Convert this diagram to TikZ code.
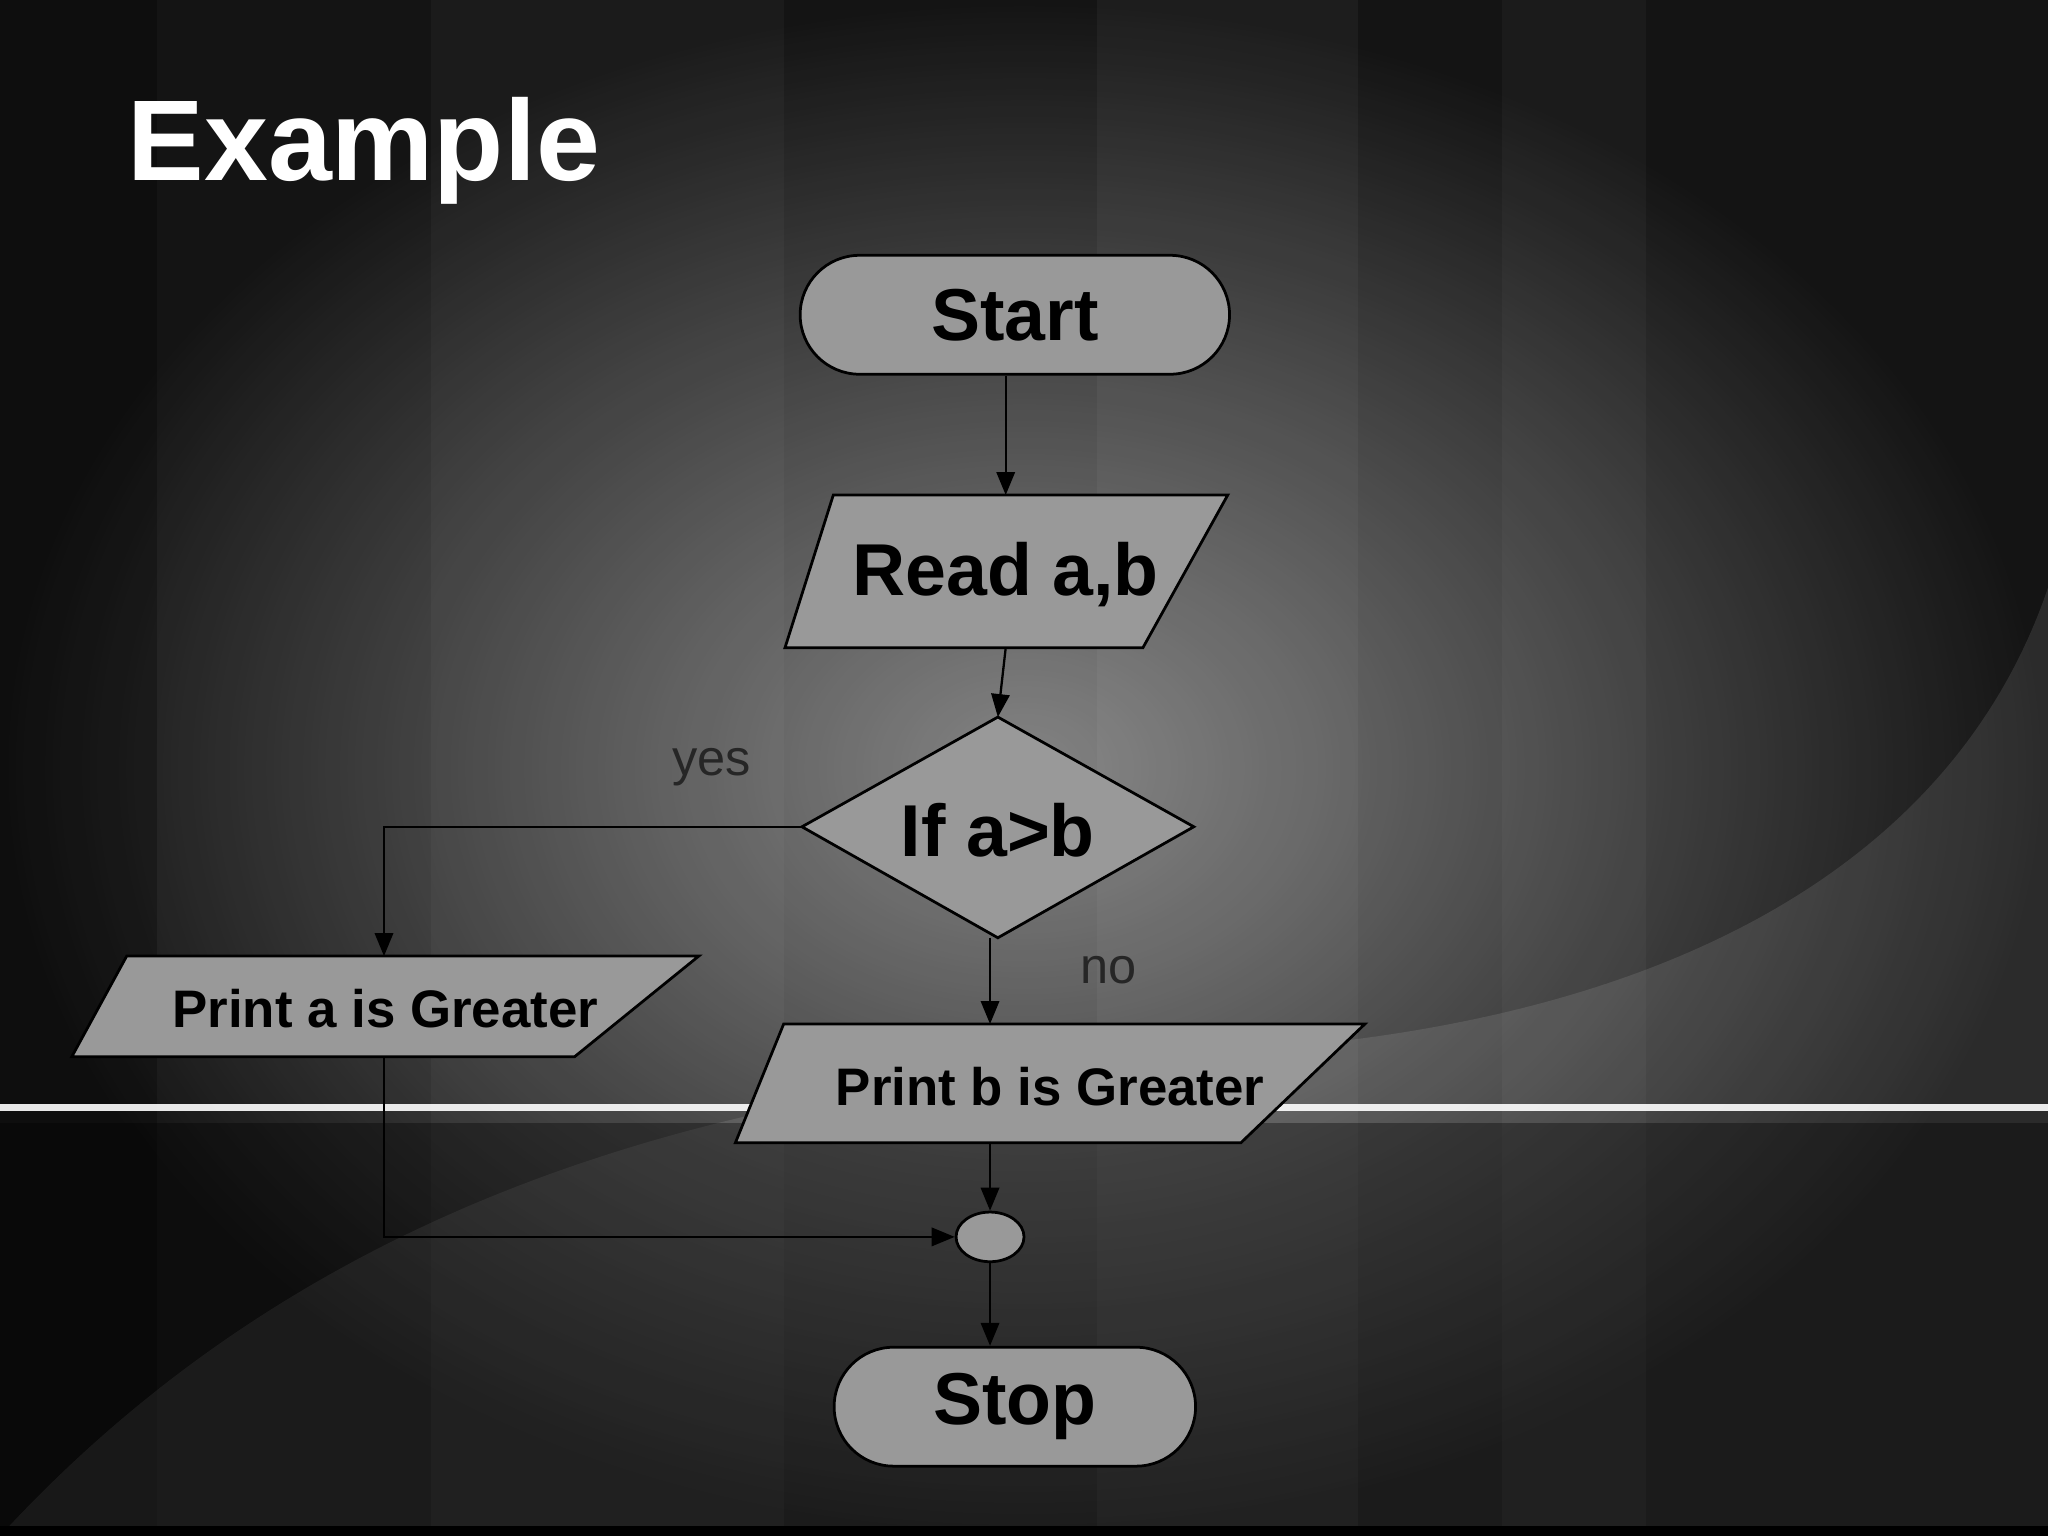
\documentclass[tikz,border=0pt]{standalone}
\usepackage{fontspec}
\setmainfont{Liberation Sans}
\usetikzlibrary{shapes.geometric,shapes.misc,arrows.meta}
\begin{document}
\begin{tikzpicture}[x=0.01cm,y=-0.01cm,
  shp/.style={draw=black,fill=gray!80,line width=0.6pt},
  lbl/.style={font=\bfseries\fontsize{16}{18}\selectfont,text=black},
  lbls/.style={font=\bfseries\fontsize{11.5}{13}\selectfont,text=black},
  ln/.style={draw=black,line width=0.5pt},
  arr/.style={ln,-{Triangle[length=5pt,width=4pt]}}]
\useasboundingbox (0,0) rectangle (1568,1176);
% background
\fill[black!92] (0,0) rectangle (1568,1176);
\shade[inner color=gray!75,outer color=black!92,opacity=0.8] (0,0) rectangle (1568,1176);
\fill[white,opacity=0.03] (330,0) rectangle (600,1176);
\fill[white,opacity=0.04] (840,0) rectangle (1040,1176);
\fill[white,opacity=0.03] (1150,0) rectangle (1260,1176);
\fill[black,opacity=0.25] (0,0) rectangle (120,1176);
\fill[white,opacity=0.1] (0,1176) .. controls (300,850) and (700,820) .. (1000,800)
   .. controls (1300,770) and (1500,650) .. (1568,450) -- (1568,1176) -- cycle;
\fill[black,opacity=0.35] (0,860) rectangle (1568,1176);
\draw[white!85,line width=1.5pt,opacity=0.9] (0,848) -- (1568,848);
\fill[black] (0,1168) rectangle (1568,1176);
% title
\node[anchor=base west,font=\bfseries\fontsize{25}{28}\selectfont,text=white,inner sep=0] (title) at (97,138) {Example};
% shapes
\node[shp,rounded rectangle,minimum width=3.52cm,minimum height=0.91cm,lbl] (start) at (777,241) {Start};
\draw[shp] (638,379) -- (940,379) -- (875,496) -- (601,496) -- cycle;
\node[lbl] (read) at (770,440) {Read a,b};
\coordinate (readt) at (770,379); \coordinate (readb) at (770,496);
\draw[shp] (764,549) coordinate (dt) -- (914,633) -- (764,718) -- (614,633) coordinate (dl) -- cycle;
\node[lbl] (dec) at (764,636) {If a>b};
\draw[shp] (97,732) -- (535,732) -- (440,809) -- (55,809) -- cycle;
\node[lbls] (pa) at (295,772) {Print a is Greater};
\coordinate (pat) at (294,732); \coordinate (pab) at (294,809);
\draw[shp] (600,784) -- (1045,784) -- (950,875) -- (563,875) -- cycle;
\node[lbls] (pb) at (804,832) {Print b is Greater};
\coordinate (pbt) at (758,784); \coordinate (pbb) at (758,875);
\node[shp,ellipse,minimum width=0.52cm,minimum height=0.38cm,inner sep=0] (con) at (758,947) {};
\node[shp,rounded rectangle,minimum width=3.0cm,minimum height=0.91cm,lbl] (stop) at (777,1077) {Stop};
% connectors
\coordinate (db) at (758,718);
\draw[arr] (start.south -| readt) -- (readt);
\draw[arr] (readb) -- (dt);
\draw[arr] (dl) -| (pat);
\draw[arr] (db) -- (pbt);
\draw[arr] (pbb) -- (con.north);
\draw[arr] (pab) |- (con.west);
\draw[arr] (con.south) -- (stop.north -| con.south);
% labels
\node[font=\fontsize{11}{13}\selectfont,text=black!85] (yes) at (545,587) {yes};
\node[font=\fontsize{11}{13}\selectfont,text=black!85] (no) at (849,743) {no};
\end{tikzpicture}
\end{document}
